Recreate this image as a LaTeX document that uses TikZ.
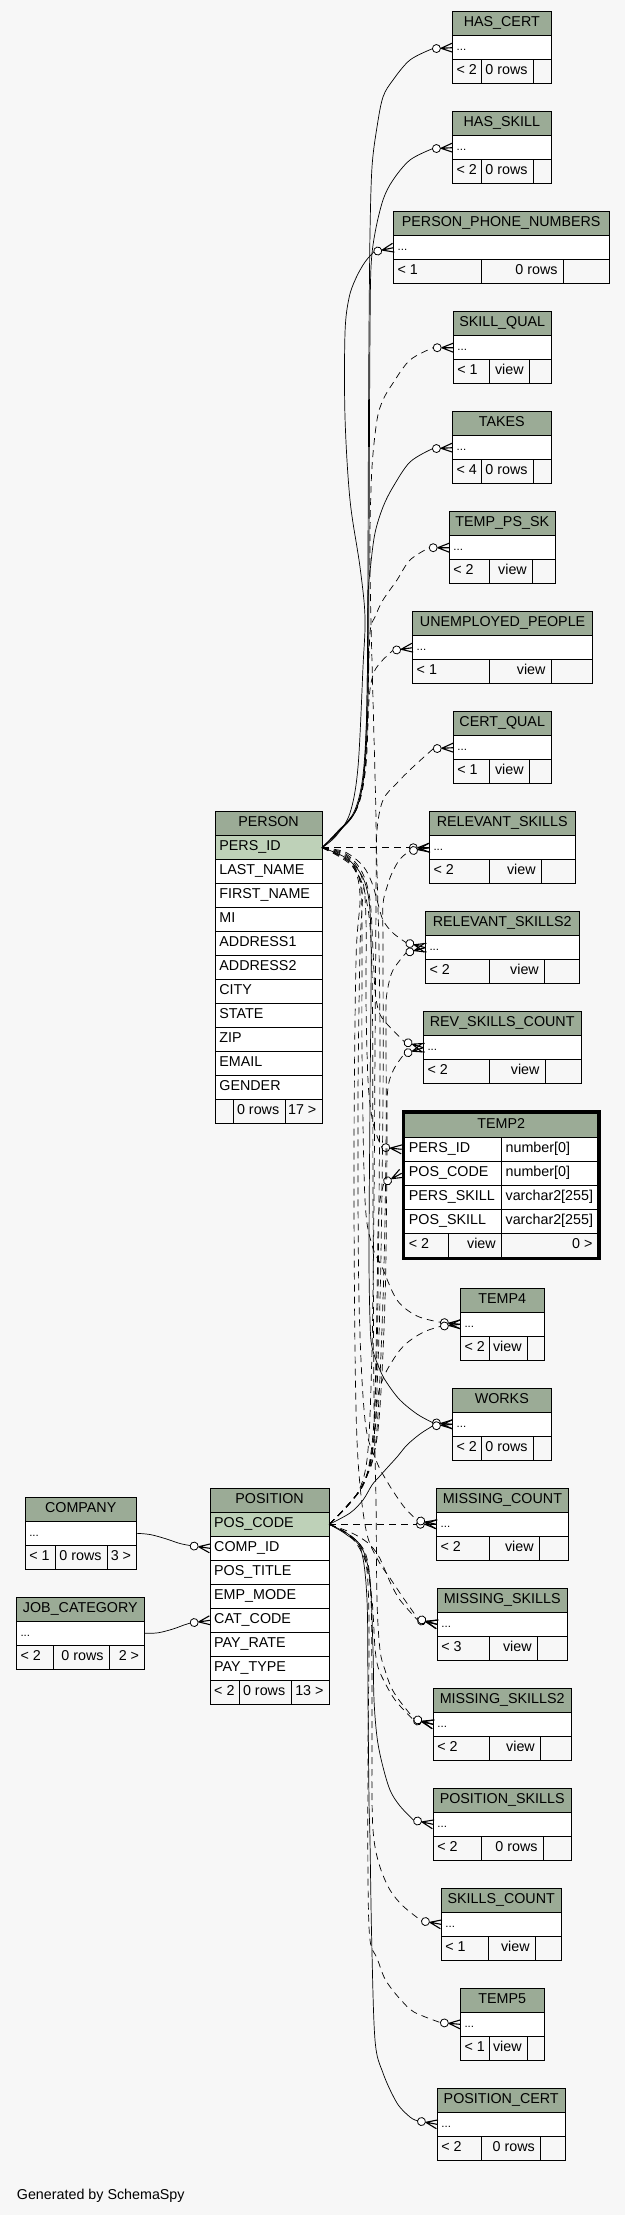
\documentclass[tikz,border=0pt]{standalone}
\usepackage{fontspec}
\setmainfont{Liberation Sans}
\definecolor{bgcol}{HTML}{F7F7F7}
\definecolor{hdrcol}{HTML}{9BAB96}
\definecolor{pkcol}{HTML}{BED1B8}
\tikzset{
  cell/.style={draw, line width=0.9pt, anchor=north west, minimum height=24pt, inner sep=0pt, outer sep=0pt},
  hdr/.style={cell, fill=hdrcol},
  body/.style={cell, fill=white},
  pkrow/.style={cell, fill=pkcol},
  foot/.style={cell, fill=bgcol},
  txt/.style={inner sep=0pt, font=\fontsize{14.3}{17}\selectfont},
  tl/.style={txt, anchor=base west},
  tr/.style={txt, anchor=base east},
  tc/.style={txt, anchor=base},
  dots/.style={inner sep=0pt, anchor=base west, font=\fontsize{11.5}{13}\selectfont},
  fk/.style={line width=0.7pt},
  im/.style={line width=0.7pt, dash pattern=on 7pt off 5pt},
  crowo/.pic={
    \draw[line width=1.1pt] (-11.5,0) -- (0,4.5) (-11.5,0) -- (0,0) (-11.5,0) -- (0,-4.5);
    \draw[line width=0.8pt, fill=white] (-16,0) circle[radius=4];
    \coordinate (-tail) at (-20,0);
  }
}
% id, title, left, right, top, c1, c2, footer1, footer2
\newcommand\erTable[9]{%
  \node[hdr, minimum width={#4pt-#3pt}] (#1) at (#3,#5) {};
  \node[tc] (#1-title) at ({(#3+#4)/2},{#5+15}) {#2};
  \node[body, minimum width={#4pt-#3pt}] (#1-row) at (#3,{#5+24}) {};
  \node[dots] (#1-dots) at ({#3+4},{#5+39}) {...};
  \node[foot, minimum width={#6pt-#3pt}] (#1-fa) at (#3,{#5+48}) {};
  \node[foot, minimum width={#7pt-#6pt}] (#1-fb) at (#6,{#5+48}) {};
  \node[foot, minimum width={#4pt-#7pt}] (#1-fc) at (#7,{#5+48}) {};
  \node[tl] (#1-fat) at ({#3+4},{#5+63}) {#8};
  \node[tr] (#1-fbt) at ({#7-5.5},{#5+63}) {#9};
}
% id, left, right, top, text, style
\newcommand\erRow[6]{%
  \node[#6, minimum width={#3pt-#2pt}] (#1) at (#2,#4) {};
  \node[tl] (#1-t) at ({#2+4},{#4+15}) {#5};
}
\begin{document}
\begin{tikzpicture}[x=1pt,y=-1pt]
\fill[bgcol] (0,0) rectangle (625,2215);
\useasboundingbox (0,0) rectangle (625,2215);

% ---------- right-hand tables ----------
\erTable{hascert}{HAS\_CERT}{452.4}{551.2}{11.7}{481.5}{533.3}{< 2}{0 rows}
\erTable{hasskill}{HAS\_SKILL}{452.4}{551.2}{111.7}{481.5}{533.3}{< 2}{0 rows}
\erTable{ppn}{PERSON\_PHONE\_NUMBERS}{393.4}{609.0}{211.7}{481.5}{563.2}{< 1}{0 rows}
\erTable{skillqual}{SKILL\_QUAL}{453.2}{551.2}{311.7}{489.0}{529.3}{< 1}{view}
\erTable{takes}{TAKES}{452.4}{551.2}{411.7}{481.5}{533.3}{< 4}{0 rows}
\erTable{tempps}{TEMP\_PS\_SK}{449.2}{555.2}{511.7}{489.4}{532.5}{< 2}{view}
\erTable{unemp}{UNEMPLOYED\_PEOPLE}{412.5}{592.7}{611.7}{489.4}{551.2}{< 1}{view}
\erTable{certqual}{CERT\_QUAL}{453.2}{551.2}{711.7}{489.0}{529.3}{< 1}{view}
\erTable{relskills}{RELEVANT\_SKILLS}{429.3}{575.1}{811.7}{489.4}{541.3}{< 2}{view}
\erTable{relskillsb}{RELEVANT\_SKILLS2}{425.3}{579.1}{911.7}{489.4}{544.5}{< 2}{view}
\erTable{revcount}{REV\_SKILLS\_COUNT}{423.3}{581.1}{1011.7}{489.4}{545.2}{< 2}{view}
\erTable{temp4}{TEMP4}{460.3}{544.0}{1288.3}{489.4}{527.3}{< 2}{view}
\erTable{works}{WORKS}{452.4}{551.2}{1388.3}{481.5}{533.3}{< 2}{0 rows}
\erTable{misscount}{MISSING\_COUNT}{436.4}{568.4}{1488.3}{489.4}{539.3}{< 2}{view}
\erTable{missskills}{MISSING\_SKILLS}{437.2}{567.2}{1588.3}{489.4}{537.3}{< 3}{view}
\erTable{missskillsb}{MISSING\_SKILLS2}{433.2}{571.1}{1688.3}{489.4}{540.5}{< 2}{view}
\erTable{posskills}{POSITION\_SKILLS}{433.2}{571.1}{1788.3}{481.5}{543.2}{< 2}{0 rows}
\erTable{skillscount}{SKILLS\_COUNT}{441.2}{561.2}{1888.3}{488.6}{535.3}{< 1}{view}
\erTable{temp5}{TEMP5}{460.3}{544.0}{1988.3}{489.4}{527.3}{< 1}{view}
\erTable{poscert}{POSITION\_CERT}{437.2}{565.2}{2088.3}{481.5}{540.5}{< 2}{0 rows}

% ---------- TEMP2 ----------
\node[hdr, minimum width=193pt] (temp2-h) at (404.7,1113.3) {};
\node[tc] (temp2-title) at (501.2,1128.3) {TEMP2};
\erRow{temp2-a}{404.7}{501.4}{1137.3}{PERS\_ID}{body}
\erRow{temp2-at}{501.4}{597.7}{1137.3}{number[0]}{body}
\erRow{temp2-b}{404.7}{501.4}{1161.3}{POS\_CODE}{body}
\erRow{temp2-bt}{501.4}{597.7}{1161.3}{number[0]}{body}
\erRow{temp2-c}{404.7}{501.4}{1185.3}{PERS\_SKILL}{body}
\erRow{temp2-ct}{501.4}{597.7}{1185.3}{varchar2[255]}{body}
\erRow{temp2-d}{404.7}{501.4}{1209.3}{POS\_SKILL}{body}
\erRow{temp2-dt}{501.4}{597.7}{1209.3}{varchar2[255]}{body}
\erRow{temp2-fa}{404.7}{448.4}{1233.3}{< 2}{foot}
\node[foot, minimum width=53pt] (temp2-fb) at (448.4,1233.3) {};
\node[tr] (temp2-fbt) at (495.9,1248.3) {view};
\node[foot, minimum width=96.3pt] (temp2-fc) at (501.4,1233.3) {};
\node[tr] (temp2-fct) at (592.7,1248.3) {0 >};
\node[draw, line width=3pt, anchor=north west, minimum width=196pt, minimum height=147pt, inner sep=0pt, outer sep=0pt] (temp2) at (403.2,1111.8) {};

% ---------- PERSON ----------
\node[hdr, minimum width=106.8pt] (person) at (215.2,811.7) {};
\node[tc] (person-title) at (268.6,826.7) {PERSON};
\erRow{person-pk}{215.2}{322.0}{835.7}{PERS\_ID}{pkrow}
\erRow{person-c1}{215.2}{322.0}{859.7}{LAST\_NAME}{body}
\erRow{person-c2}{215.2}{322.0}{883.7}{FIRST\_NAME}{body}
\erRow{person-c3}{215.2}{322.0}{907.7}{MI}{body}
\erRow{person-c4}{215.2}{322.0}{931.7}{ADDRESS1}{body}
\erRow{person-c5}{215.2}{322.0}{955.7}{ADDRESS2}{body}
\erRow{person-c6}{215.2}{322.0}{979.7}{CITY}{body}
\erRow{person-c7}{215.2}{322.0}{1003.7}{STATE}{body}
\erRow{person-c8}{215.2}{322.0}{1027.7}{ZIP}{body}
\erRow{person-c9}{215.2}{322.0}{1051.7}{EMAIL}{body}
\erRow{person-c10}{215.2}{322.0}{1075.7}{GENDER}{body}
\node[foot, minimum width=18.4pt] (person-fa) at (215.2,1099.7) {};
\node[foot, minimum width=51.8pt] (person-fb) at (233.6,1099.7) {};
\node[tr] (person-fbt) at (279.4,1114.7) {0 rows};
\node[foot, minimum width=36.6pt] (person-fc) at (285.4,1099.7) {};
\node[tr] (person-fct) at (316.5,1114.7) {17 >};

% ---------- POSITION ----------
\node[hdr, minimum width=119.2pt] (position) at (210.0,1488.3) {};
\node[tc] (position-title) at (269.6,1503.3) {POSITION};
\erRow{position-pk}{210.0}{329.2}{1512.3}{POS\_CODE}{pkrow}
\erRow{position-c1}{210.0}{329.2}{1536.3}{COMP\_ID}{body}
\erRow{position-c2}{210.0}{329.2}{1560.3}{POS\_TITLE}{body}
\erRow{position-c3}{210.0}{329.2}{1584.3}{EMP\_MODE}{body}
\erRow{position-c4}{210.0}{329.2}{1608.3}{CAT\_CODE}{body}
\erRow{position-c5}{210.0}{329.2}{1632.3}{PAY\_RATE}{body}
\erRow{position-c6}{210.0}{329.2}{1656.3}{PAY\_TYPE}{body}
\erRow{position-fa}{210.0}{239.1}{1680.3}{< 2}{foot}
\node[foot, minimum width=52.6pt] (position-fb) at (239.1,1680.3) {};
\node[tr] (position-fbt) at (285.4,1695.3) {0 rows};
\node[foot, minimum width=37.5pt] (position-fc) at (291.7,1680.3) {};
\node[tr] (position-fct) at (323.7,1695.3) {13 >};

% ---------- COMPANY / JOB_CATEGORY ----------
\erTable{company}{COMPANY}{25.1}{136.3}{1497.3}{55.0}{107.2}{< 1}{0 rows}
\node[tr] (company-fct) at (131.3,1560.3) {3 >};
\erTable{jobcat}{JOB\_CATEGORY}{16.3}{144.3}{1597.3}{53.0}{109.2}{< 2}{0 rows}
\node[tr] (jobcat-fct) at (139.3,1660.3) {2 >};

\node[tl] (credit) at (16.7,2199) {Generated by SchemaSpy};

% ---------- markers ----------
\pic[rotate=3] (hc) at (452.4,47.7) {crowo};
\pic[rotate=3] (hs) at (452.4,147.7) {crowo};
\pic[rotate=12] (pp) at (393.4,247.7) {crowo};
\pic (sq) at (453.2,347.7) {crowo};
\pic[rotate=3] (tk) at (452.4,447.7) {crowo};
\pic (tps) at (449.2,547.7) {crowo};
\pic[rotate=8] (un) at (412.5,647.7) {crowo};
\pic[rotate=3] (cq) at (453.2,747.7) {crowo};
\pic (rsa) at (429.3,847.7) {crowo};
\pic[rotate=10] (rsb) at (429.3,847.7) {crowo};
\pic[rotate=-15] (rta) at (425.3,947.7) {crowo};
\pic[rotate=15] (rtb) at (425.3,947.7) {crowo};
\pic[rotate=-18] (rva) at (423.3,1047.7) {crowo};
\pic[rotate=18] (rvb) at (423.3,1047.7) {crowo};
\pic[rotate=-6] (tta) at (401.7,1149.3) {crowo};
\pic[rotate=28] (ttb) at (401.7,1173.3) {crowo};
\pic[rotate=-6] (tfa) at (460.3,1324.3) {crowo};
\pic[rotate=6] (tfb) at (460.3,1324.3) {crowo};
\pic[rotate=-5] (wka) at (452.4,1424.3) {crowo};
\pic[rotate=5] (wkb) at (452.4,1424.3) {crowo};
\pic (mca) at (436.4,1524.3) {crowo};
\pic[rotate=-12] (mcb) at (436.4,1524.3) {crowo};
\pic[rotate=-12] (msa) at (437.2,1624.3) {crowo};
\pic[rotate=-16] (msb) at (437.2,1624.3) {crowo};
\pic[rotate=-12] (mta) at (433.2,1724.3) {crowo};
\pic[rotate=-16] (mtb) at (433.2,1724.3) {crowo};
\pic[rotate=-12] (ps) at (433.2,1824.3) {crowo};
\pic[rotate=-10] (sc) at (441.2,1924.3) {crowo};
\pic[rotate=-5] (tv) at (460.3,2024.3) {crowo};
\pic[rotate=-10] (pc) at (437.2,2124.3) {crowo};
\pic[rotate=-8] (cp) at (210.0,1548.3) {crowo};
\pic[rotate=8] (jc) at (210.0,1620.3) {crowo};

% ---------- connectors from PERSON.PERS_ID ----------
\draw[fk] plot[smooth,tension=.55] coordinates {(person-pk.east) (337,832) (354,812) (363,775) (367,700) (368,550) (368.5,420) (369,333) (370,233) (372,167) (377,127) (383,97) (393,80) (410,60) (hc-tail)};
\draw[fk] plot[smooth,tension=.55] coordinates {(person-pk.east) (338,832.5) (355,812) (364,775) (368,700) (369,550) (369.5,420) (370,333) (371,267) (375,233) (383,200) (393,180) (410,160) (hs-tail)};
\draw[fk] plot[smooth,tension=.55] coordinates {(person-pk.east) (336,836) (350,813) (358,767) (363,667) (365,617) (360,567) (350,500) (345,417) (345,333) (349,298) (356,278) (365,262) (pp-tail)};
\draw[fk] plot[smooth,tension=.55] coordinates {(person-pk.east) (339,831) (356,810) (364,772) (367,700) (368,600) (370.5,567) (375,533) (383,507) (393,487) (410,462) (tk-tail)};
\draw[im] plot[smooth,tension=.55] coordinates {(person-pk.east) (340,830) (357,808) (365,770) (368,700) (370,633) (375,617) (383,600) (397,580) (410,560) (tps-tail)};
\draw[im] plot[smooth,tension=.55] coordinates {(person-pk.east) (341,829) (358,806) (366,765) (369,700) (373,675) (380,663) (un-tail)};
\draw[im] (person-pk.east) -- (rsa-tail);
\draw[im] plot[smooth,tension=.55] coordinates {(person-pk.east) (345,852) (363,866) (372,883) (377,900) (383,920) (393,933) (rta-tail)};
\draw[im] plot[smooth,tension=.55] coordinates {(person-pk.east) (346,854) (362,872) (370,900) (373,950) (375,990) (379,1012) (387,1024) (rva-tail)};
\draw[im] plot[smooth,tension=.55] coordinates {(person-pk.east) (347,856) (362,878) (366,920) (366,1000) (368,1080) (372,1118) (377,1136) (tta-tail)};
\draw[im] plot[smooth,tension=.55] coordinates {(person-pk.east) (348,858) (360,882) (362,930) (362,1050) (365,1200) (372,1245) (382,1267) (397,1300) (417,1316) (tfa-tail)};
\draw[fk] plot[smooth,tension=.55] coordinates {(person-pk.east) (349,860) (366,886) (371,940) (370,1100) (369,1250) (370,1320) (372,1347) (380,1370) (387,1383) (400,1400) (417,1414) (wka-tail)};
\draw[im] plot[smooth,tension=.55] coordinates {(person-pk.east) (350,862) (362,890) (360,950) (358,1100) (359,1300) (365,1420) (376,1460) (388,1483) (397,1497) (405,1508) (mcb-tail)};
\draw[im] plot[smooth,tension=.55] coordinates {(person-pk.east) (351,864) (360,895) (356,960) (354,1150) (355,1350) (358,1460) (366,1530) (378,1560) (392,1581) (402,1596) (msb-tail)};
\draw[im] plot[smooth,tension=.55] coordinates {(person-pk.east) (352,866) (366,898) (372,970) (373,1200) (374,1400) (376,1500) (377,1600) (380,1650) (385,1670) (391,1687) (399,1700) (mtb-tail)};

% ---------- connectors from POSITION.POS_CODE ----------
\draw[im] plot[smooth,tension=.55] coordinates {(position-pk.east) (345,1508) (360,1488) (368,1450) (372,1350) (374,1200) (375,1050) (376,900) (376,820) (373,700) (370.5,600) (370,533) (372,467) (377,420) (383,400) (393,383) (410,360) (sq-tail)};
\draw[im] plot[smooth,tension=.55] coordinates {(position-pk.east) (346,1507) (362,1486) (372,1450) (377,1350) (379,1200) (380,1050) (379,950) (377,870) (377,830) (383,800) (397,783) (413,767) (cq-tail)};
\draw[im] plot[smooth,tension=.55] coordinates {(position-pk.east) (347,1506) (363,1484) (374,1440) (380,1300) (383,1100) (383,950) (383,905) (387,887) (392,873) (400,859) (rsb-tail)};
\draw[im] plot[smooth,tension=.55] coordinates {(position-pk.east) (348,1505) (364,1482) (376,1440) (383,1300) (386,1150) (386,1030) (386,1003) (388,987) (393,970) (rtb-tail)};
\draw[im] plot[smooth,tension=.55] coordinates {(position-pk.east) (349,1504) (365,1480) (378,1430) (385,1300) (387,1150) (387,1103) (389,1082) (395,1067) (rvb-tail)};
\draw[im] plot[smooth,tension=.55] coordinates {(position-pk.east) (350,1503) (366,1478) (374,1420) (377,1300) (378,1230) (380,1200) (ttb-tail)};
\draw[im] plot[smooth,tension=.55] coordinates {(position-pk.east) (351,1502) (367,1476) (375,1430) (377,1403) (380,1387) (387,1370) (400,1350) (412,1339) (426,1331) (tfb-tail)};
\draw[fk] plot[smooth,tension=.55] coordinates {(position-pk.east) (350,1513) (363,1500) (372,1485) (379,1477) (387,1468) (397,1457) (407,1445) (420,1434) (wkb-tail)};
\draw[im] (position-pk.east) -- (mca-tail);
\draw[im] plot[smooth,tension=.55] coordinates {(position-pk.east) (352,1533) (368,1543) (378,1555) (385,1570) (391,1584) (400,1600) (msa-tail)};
\draw[im] plot[smooth,tension=.55] coordinates {(position-pk.east) (350,1536) (365,1560) (372,1600) (375,1648) (378,1667) (384,1681) (393,1697) (401,1707) (mta-tail)};
\draw[fk] plot[smooth,tension=.55] coordinates {(position-pk.east) (348,1534) (362,1548) (370,1580) (373,1650) (374,1700) (377,1737) (382,1763) (390,1790) (400,1806) (ps-tail)};
\draw[im] plot[smooth,tension=.55] coordinates {(position-pk.east) (350,1535) (366,1555) (371,1600) (372,1700) (372,1800) (374,1840) (380,1867) (390,1890) (403,1906) (sc-tail)};
\draw[im] plot[smooth,tension=.55] coordinates {(position-pk.east) (350,1536) (365,1558) (369,1620) (368,1750) (368,1880) (370,1940) (377,1958) (384,1977) (391,1988) (401,2000) (414,2012) (tv-tail)};
\draw[fk] plot[smooth,tension=.55] coordinates {(position-pk.east) (347,1535) (361,1550) (367,1600) (368,1700) (369,1800) (370,1840) (371.7,1940) (375,2040) (383,2073) (397,2103) (410,2117) (pc-tail)};

% ---------- COMPANY / JOB_CATEGORY ----------
\draw[fk] plot[smooth,tension=.55] coordinates {(company-row.east) (150,1534.5) (165,1538.5) (180,1543.5) (cp-tail)};
\draw[fk] plot[smooth,tension=.55] coordinates {(jobcat-row.east) (158,1632.8) (173,1629) (184,1625) (jc-tail)};
\end{tikzpicture}
\end{document}
